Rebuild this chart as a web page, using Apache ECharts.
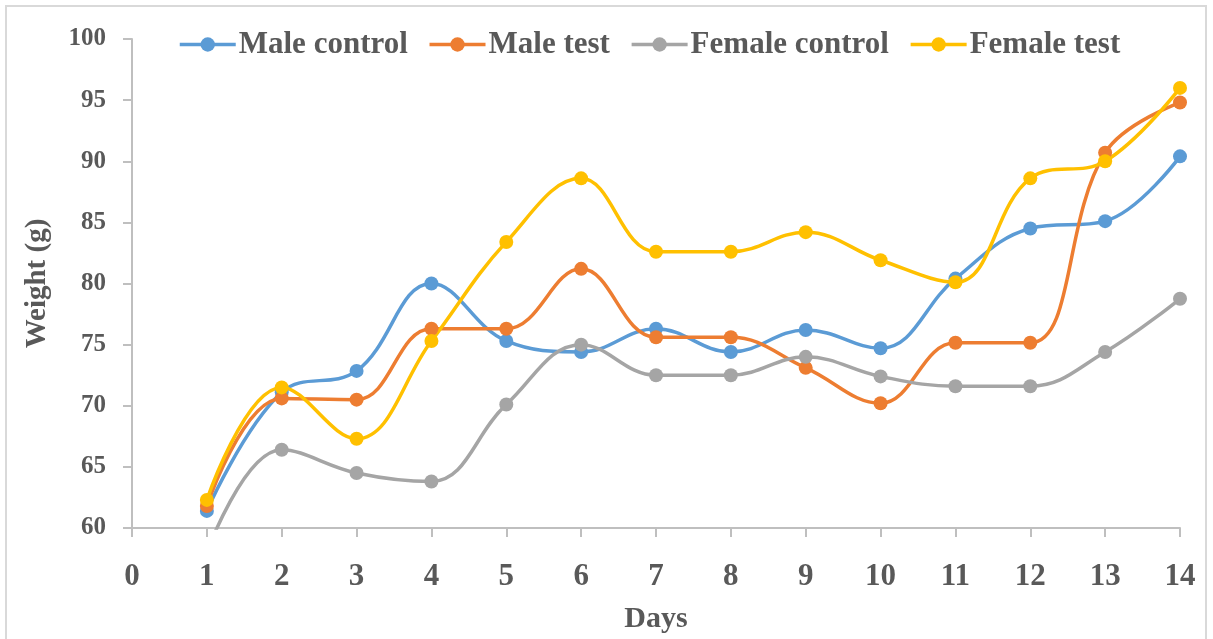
<!DOCTYPE html>
<html>
<head>
<meta charset="utf-8">
<script src="https://cdn.jsdelivr.net/npm/echarts@6/dist/echarts.min.js"></script>
<style>
html,body{margin:0;padding:0;background:#fff;}
#frame{position:absolute;left:5px;top:5px;width:1202px;height:660px;border:2px solid #d9d9d9;box-sizing:border-box;}
#chart{position:absolute;left:0;top:0;width:1213px;height:639px;}
</style>
</head>
<body>
<div id="frame"></div>
<div id="chart"></div>
<script>
const days = [1,2,3,4,5,6,7,8,9,10,11,12,13,14];
const seriesNames = ['Male control','Male test','Female control','Female test'];
const maleControl   = [61.4,71.1,72.85,80.0,75.3,74.4,76.3,74.4,76.2,74.7,80.4,84.5,85.1,90.4];
const maleTest      = [61.8,70.6,70.5,76.3,76.3,81.2,75.6,75.6,73.1,70.2,75.15,75.15,90.7,94.8];
const femaleControl = [58.0,66.4,64.5,63.8,70.1,75.0,72.5,72.5,74.0,72.4,71.6,71.6,74.4,78.75];
const femaleTest    = [62.3,71.5,67.3,75.3,83.4,88.6,82.6,82.6,84.2,81.9,80.1,88.6,90.0,96.0];
const colors = ['#5B9BD5','#ED7D31','#A5A5A5','#FFC000'];
const allValues = [maleControl, maleTest, femaleControl, femaleTest];

const font = '"Liberation Serif","Times New Roman",serif';
const chart = echarts.init(document.getElementById('chart'), null, {renderer:'canvas'});
chart.setOption({
  animation:false,
  backgroundColor:'transparent',
  color: colors,
  legend:{
    data: seriesNames,
    left: 173, top: 24,
    itemWidth: 56, itemHeight: 18, itemGap: 20,
    lineStyle:{width:3.5},
    textStyle:{fontFamily:font, fontWeight:'bold', fontSize:31, color:'#595959', padding:[0,0,0,-2]}
  },
  grid:{left:132, right:33, top:39, bottom:108, containLabel:false},
  xAxis:{
    type:'value', min:0, max:14, interval:1,
    name:'Days', nameLocation:'middle', nameGap:76,
    nameTextStyle:{fontFamily:font, fontWeight:'bold', fontSize:30, color:'#595959'},
    axisLine:{show:true, lineStyle:{color:'#BFBFBF', width:2}},
    axisTick:{show:true, length:9, lineStyle:{color:'#BFBFBF', width:2}},
    axisLabel:{fontFamily:font, fontWeight:'bold', fontSize:31, color:'#595959', margin:33},
    splitLine:{show:false}
  },
  yAxis:{
    type:'value', min:60, max:100, interval:5,
    name:'Weight (g)', nameLocation:'middle', nameGap:80, nameRotate:90,
    nameTextStyle:{fontFamily:font, fontWeight:'bold', fontSize:29, color:'#595959'},
    axisLine:{show:true, lineStyle:{color:'#BFBFBF', width:2}},
    axisTick:{show:true, length:9, lineStyle:{color:'#BFBFBF', width:2}},
    axisLabel:{fontFamily:font, fontWeight:'bold', fontSize:25, color:'#595959', margin:26},
    splitLine:{show:false}
  },
  series: seriesNames.map((n,i)=>({
    name:n, type:'line', smooth:0.4,
    data: days.map((d,j)=>[d, allValues[i][j]]),
    symbol:'circle', symbolSize:14,
    lineStyle:{width:3.5, color:colors[i]},
    itemStyle:{color:colors[i]},
    clip:true
  }))
});
</script>
</body>
</html>
